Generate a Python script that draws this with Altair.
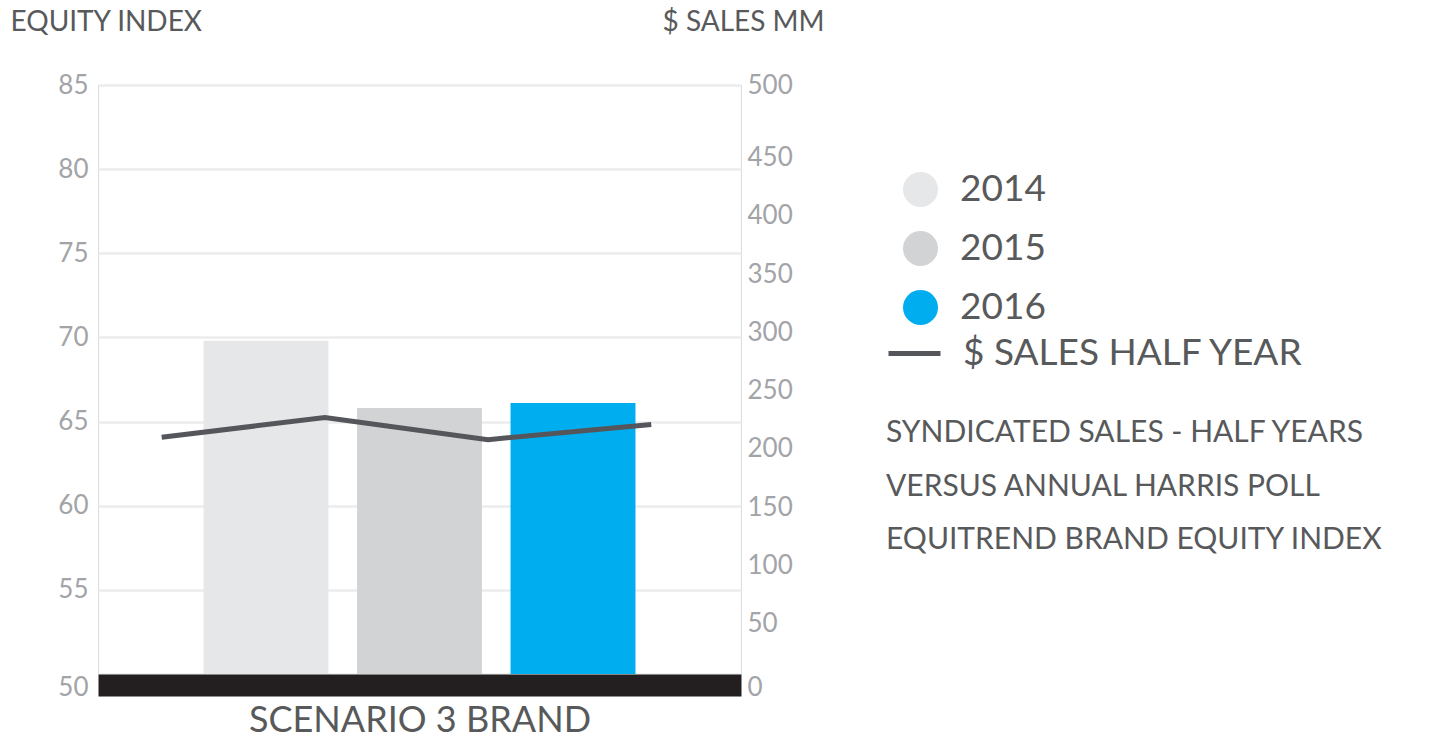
import altair as alt
import pandas as pd

# ---- data ----
years = ["2014", "2015", "2016"]
equity_index = [69.8, 65.8, 66.1]

half_years = ["2014 H2", "2015 H1", "2015 H2", "2016 H1"]
sales_mm = [210, 227, 208, 221]

series_name = "$ SALES HALF YEAR"
note_lines = [
    "SYNDICATED SALES - HALF YEARS",
    "VERSUS ANNUAL HARRIS POLL",
    "EQUITREND BRAND EQUITY INDEX",
]

bar_colors = ["#e6e7e8", "#d1d3d4", "#00aeef"]
line_color = "#55565b"
text_color = "#58595b"
label_color = "#a2a4a7"
FONT = "Lato"

bars_df = pd.DataFrame({"year": years, "equity": equity_index})
line_df = pd.DataFrame({"half": half_years, "sales": sales_mm, "series": series_name})

W, H = 643, 589

bars = alt.Chart(bars_df).mark_bar().encode(
    x=alt.X(
        "year:N",
        sort=years,
        scale=alt.Scale(type="band", paddingInner=0.186, paddingOuter=0.6875),
        axis=alt.Axis(
            labels=False, ticks=False, grid=False,
            domain=True, domainColor="#231f20", domainWidth=22, offset=11,
            title="SCENARIO 3 BRAND", titleFont=FONT, titleFontSize=36,
            titleFontWeight="normal", titleColor=text_color,
            titleBaseline="middle", titleY=35,
        ),
    ),
    y=alt.Y(
        "equity:Q",
        scale=alt.Scale(domain=[50, 85], nice=False, zero=False),
        axis=alt.Axis(
            orient="left", values=[50, 55, 60, 65, 70, 75, 80, 85],
            domain=False, ticks=False, grid=True,
            gridColor="#ececec", gridWidth=2.5,
            labelFont=FONT, labelFontSize=26, labelColor=label_color,
            labelPadding=10,
            labelOffset={"condition": {"test": "datum.value == 50", "value": 13}, "value": 0},
            title="EQUITY INDEX", titleFont=FONT, titleFontSize=28,
            titleFontWeight="normal", titleColor=text_color,
            titleAngle=0, titleAlign="left", titleBaseline="middle",
            titleX=-88, titleY=-63,
        ),
    ),
    y2=alt.datum(50),
    color=alt.Color(
        "year:N",
        scale=alt.Scale(domain=years, range=bar_colors),
        legend=alt.Legend(
            orient="none", legendX=804, legendY=86, title=None,
            symbolType="circle", symbolSize=1225, symbolStrokeWidth=0,
            symbolOpacity=1,
            labelFont=FONT, labelFontSize=37, labelColor=text_color,
            labelOffset=21, rowPadding=21, padding=0, labelLimit=400,
        ),
    ),
)

line = alt.Chart(line_df).mark_line(strokeWidth=5).encode(
    x=alt.X(
        "half:O",
        sort=half_years,
        scale=alt.Scale(type="point", padding=0.47, align=0.415),
        axis=None,
    ),
    y=alt.Y(
        "sales:Q",
        scale=alt.Scale(domain=[0, 500], range=[597, 14.4], nice=False),
        axis=alt.Axis(
            orient="right", values=[0, 50, 100, 150, 200, 250, 300, 350, 400, 450, 500],
            domain=False, ticks=False, grid=False,
            labelFont=FONT, labelFontSize=26, labelColor=label_color,
            labelPadding=6,
            labelOffset={
                "condition": [
                    {"test": "datum.value == 500", "value": -14},
                    {"test": "datum.value == 0", "value": 5},
                ],
                "value": 0,
            },
            title="$ SALES MM", titleFont=FONT, titleFontSize=28,
            titleFontWeight="normal", titleColor=text_color,
            titleAngle=0, titleAlign="left", titleBaseline="middle",
            titleX=-79, titleY=-63,
        ),
    ),
    color=alt.Color(
        "series:N",
        scale=alt.Scale(domain=[series_name], range=[line_color]),
        legend=alt.Legend(
            orient="none", legendX=788, legendY=240,
            title=note_lines, titleOrient="bottom", titleAnchor="start",
            titleAlign="left", titleBaseline="top",
            titleFont=FONT, titleFontSize=30, titleFontWeight="normal",
            titleColor=text_color, titleLineHeight=53.5, titlePadding=46,
            titleLimit=700,
            symbolType="stroke", symbolSize=2704, symbolStrokeWidth=5,
            labelFont=FONT, labelFontSize=37, labelColor=text_color,
            labelOffset=20, padding=0, labelLimit=500,
        ),
    ),
)

chart = (
    alt.layer(bars, line)
    .resolve_scale(x="independent", y="independent", color="independent")
    .properties(
        width=W, height=H,
        autosize=alt.AutoSizeParams(type="none"),
        padding={"left": 98, "top": 85, "right": 701, "bottom": 66},
        background="white",
    )
    .configure_view(stroke="#dcdcdc", strokeWidth=2.5)
    .configure(font=FONT)
)

chart.save("out.html", embed_options={"renderer": "svg", "actions": False})
